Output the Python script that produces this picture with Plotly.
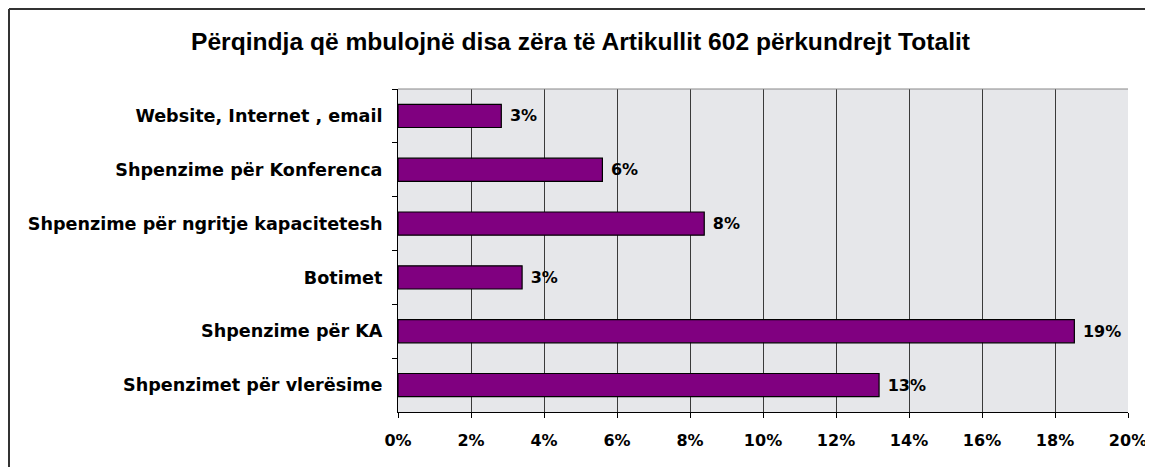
import plotly.graph_objs as go

# categories, top to bottom as in the chart
categories = [
    "Website, Internet , email",
    "Shpenzime për Konferenca",
    "Shpenzime për ngritje kapacitetesh",
    "Botimet",
    "Shpenzime për KA",
    "Shpenzimet për vlerësime",
]
# share of the Article 602 total (fraction)
shares = [0.0283, 0.0560, 0.0839, 0.0340, 0.1853, 0.1318]

tick_vals = [0, 0.02, 0.04, 0.06, 0.08, 0.10, 0.12, 0.14, 0.16, 0.18, 0.20]

title_text = "Përqindja që mbulojnë disa zëra të Artikullit 602 përkundrejt Totalit"

# page body adds an 8px offset, so the figure is a bit smaller than the window
W, H = 1145, 459
ML, MR, MT, MB = 390, 25, 81, 55
pw = W - ML - MR
ph = H - MT - MB

fig = go.Figure()

fig.add_trace(go.Bar(
    x=shares,
    y=categories,
    orientation='h',
    marker=dict(color='#800080', line=dict(color='black', width=1.2)),
    texttemplate='\u00a0%{x:.0%}',
    textposition='outside',
    textfont=dict(family='DejaVu Sans', size=16, color='black', weight='bold'),
    cliponaxis=False,
    width=0.43,
))

fig.update_layout(
    width=W,
    height=H,
    margin=dict(l=ML, r=MR, t=MT, b=MB, autoexpand=False),
    paper_bgcolor='white',
    plot_bgcolor='#e6e7ea',
    showlegend=False,
    title=dict(
        text=title_text,
        x=0.5, xanchor='center',
        xref='container',
        yref='container',
        y=1 - 33 / H, yanchor='middle',
        font=dict(family='Liberation Sans', size=24.6, color='black', weight='bold'),
    ),
    xaxis=dict(
        range=[0, 0.20],
        tickvals=tick_vals,
        tickformat='.0%',
        showgrid=True,
        gridcolor='#3a3a3a',
        gridwidth=1,
        showline=True,
        linecolor='black',
        linewidth=1,
        ticks='outside',
        ticklen=5,
        tickcolor='black',
        ticklabelstandoff=9,
        zeroline=False,
        tickfont=dict(family='DejaVu Sans', size=16, color='black', weight='bold'),
    ),
    yaxis=dict(
        autorange='reversed',
        showline=True,
        linecolor='black',
        linewidth=1,
        ticks='outside',
        tickson='boundaries',
        ticklen=5,
        tickcolor='black',
        ticklabelstandoff=11,
        showgrid=False,
        tickfont=dict(family='DejaVu Sans', size=17.6, color='black', weight='bold'),
    ),
    bargap=0.57,
    shapes=[
        # outer chart frame (top and left edges)
        dict(type='line', xref='paper', yref='paper',
             x0=-(ML - 1) / pw, x1=1 + (MR + 5) / pw,
             y0=1 + (MT - 1) / ph, y1=1 + (MT - 1) / ph,
             line=dict(color='#333333', width=2)),
        dict(type='line', xref='paper', yref='paper',
             x0=-(ML - 1) / pw, x1=-(ML - 1) / pw,
             y0=1 + (MT - 1) / ph, y1=-(MB + 5) / ph,
             line=dict(color='#333333', width=2)),
        # top border of plot area
        dict(type='line', xref='paper', yref='paper',
             x0=0, x1=1, y0=1, y1=1,
             line=dict(color='#888888', width=1)),
    ],
)

fig.write_html("out.html")
